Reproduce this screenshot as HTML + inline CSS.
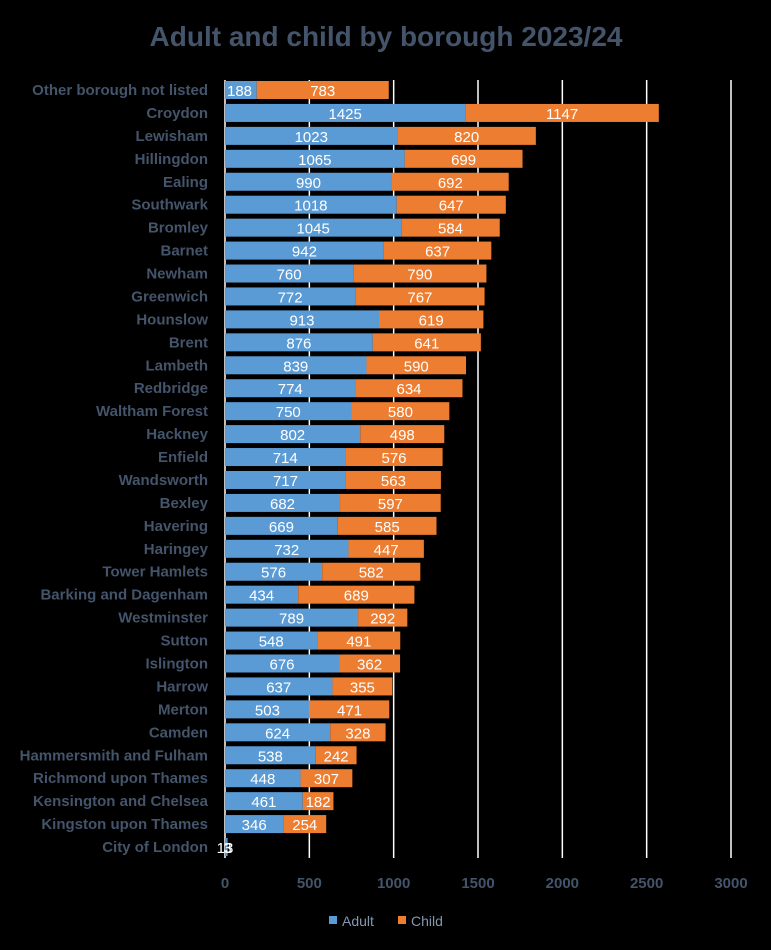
<!DOCTYPE html>
<html><head><meta charset="utf-8"><style>
body{margin:0;background:#000;}
svg{display:block;font-family:"Liberation Sans",sans-serif;}
</style></head><body>
<svg id="chart" width="771" height="950" viewBox="0 0 771 950">
<rect width="771" height="950" fill="#000"/>
<text x="386" y="46" text-anchor="middle" font-size="28" font-weight="bold" fill="#44546A">Adult and child by borough 2023/24</text>
<g id="grid"></g><g id="bars"></g><g id="labels"></g><g id="ticks"></g>
<g>
<rect x="329" y="916" width="8" height="8" fill="#5B9BD5"/>
<text x="342" y="926" font-size="14" fill="#8497B0">Adult</text>
<rect x="398" y="916" width="8" height="8" fill="#ED7D31"/>
<text x="411" y="926" font-size="14" fill="#8497B0">Child</text>
</g>
</svg>
<script>
const categories=["Other borough not listed","Croydon","Lewisham","Hillingdon","Ealing","Southwark","Bromley","Barnet","Newham","Greenwich","Hounslow","Brent","Lambeth","Redbridge","Waltham Forest","Hackney","Enfield","Wandsworth","Bexley","Havering","Haringey","Tower Hamlets","Barking and Dagenham","Westminster","Sutton","Islington","Harrow","Merton","Camden","Hammersmith and Fulham","Richmond upon Thames","Kensington and Chelsea","Kingston upon Thames","City of London"];
const adult=[188,1425,1023,1065,990,1018,1045,942,760,772,913,876,839,774,750,802,714,717,682,669,732,576,434,789,548,676,637,503,624,538,448,461,346,13];
const child=[783,1147,820,699,692,647,584,637,790,767,619,641,590,634,580,498,576,563,597,585,447,582,689,292,491,362,355,471,328,242,307,182,254,3];
const xTicks=[0,500,1000,1500,2000,2500,3000];
const NS="http://www.w3.org/2000/svg";
const x0=225,x1=731,xMax=3000,yTop=90,step=22.94,bh=18;
const xs=v=>x0+v/xMax*(x1-x0);
const yc=i=>yTop+i*step;
function mk(tag,attrs,parent,txt){const e=document.createElementNS(NS,tag);for(const k in attrs)e.setAttribute(k,attrs[k]);if(txt!==undefined)e.textContent=txt;document.getElementById(parent).appendChild(e);return e;}
xTicks.forEach(t=>{
  const l=mk('line',{x1:xs(t),x2:xs(t),y1:80,y2:858,stroke:'#fff','stroke-width':1.5},'grid');
  
  
  const tx=mk('text',{x:xs(t),y:888,'text-anchor':'middle','font-size':15,'font-weight':'bold',fill:'#44546A'},'ticks',String(t));
  
  
});
categories.forEach((c,i)=>{
  const y=yc(i);
  const lb=mk('text',{x:208,y:y+5,'text-anchor':'end','font-size':15,'font-weight':'bold',fill:'#44546A'},'labels',c);
  
  
  const a=mk('rect',{x:xs(0),y:y-bh/2,width:xs(adult[i])-xs(0),height:bh,fill:'#5B9BD5'},'bars');
  
  
  const b=mk('rect',{x:xs(adult[i]),y:y-bh/2,width:xs(child[i])-xs(0),height:bh,fill:'#ED7D31'},'bars');
  
  
  const al=mk('text',{x:(xs(0)+xs(adult[i]))/2,y:y+6,'text-anchor':'middle','font-size':15,fill:'#fff'},'bars',String(adult[i]));
  if(adult[i]<300){al.setAttribute('x',xs(0)+(i==categories.length-1?0:2));al.setAttribute('text-anchor',i==categories.length-1?'middle':'start');}
  
  
  const cl=mk('text',{x:(xs(adult[i])+xs(adult[i]+child[i]))/2,y:y+6,'text-anchor':'middle','font-size':15,fill:'#fff'},'bars',String(child[i]));
  
  
});
</script>
</body></html>
